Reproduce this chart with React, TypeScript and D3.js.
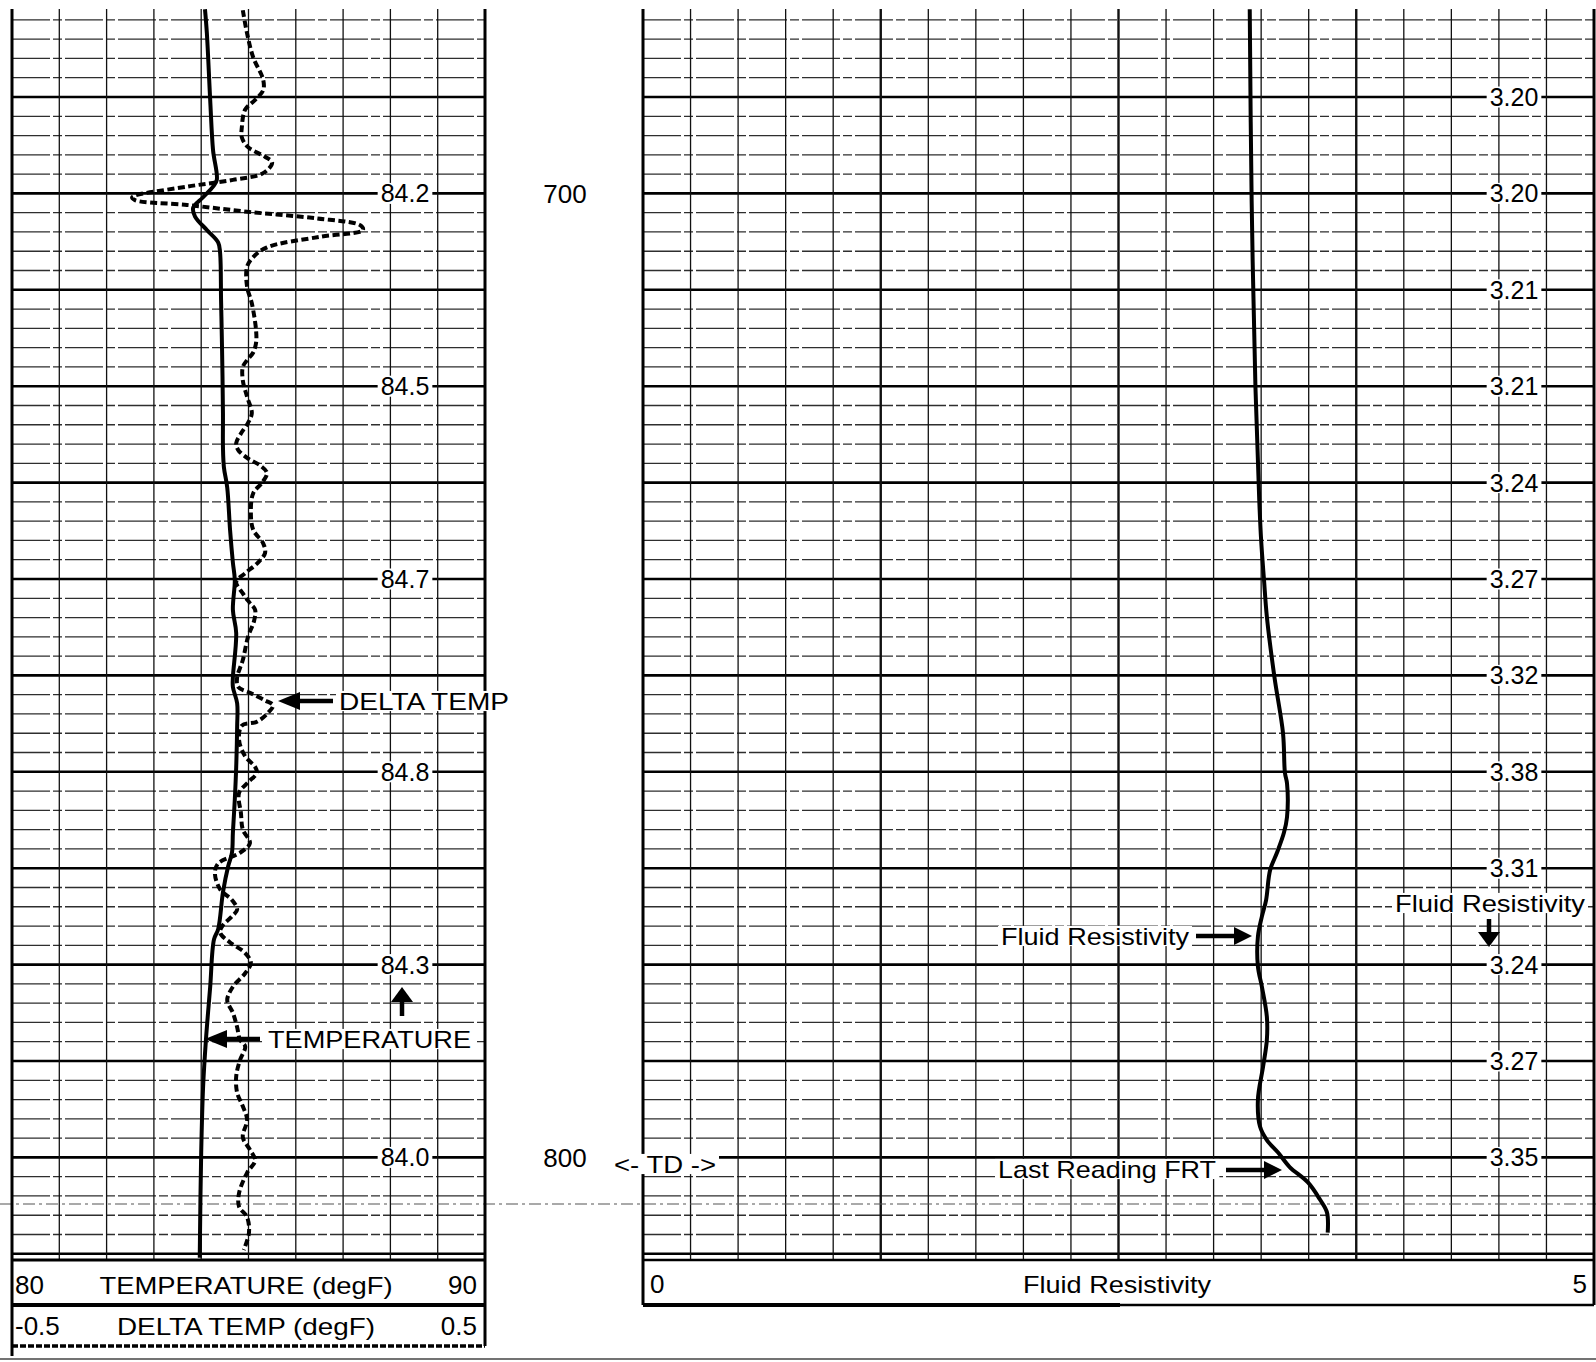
import { useEffect, useRef } from "react";
import * as d3 from "d3";

const tempDepth = [680.9, 683.4, 690.3, 695.5, 698.6, 699.3, 700.4, 701.5, 702.4, 703.8, 705.1, 706.2, 711.1, 715.9, 722.8, 726.3, 728.4, 730.5, 734.9, 738.3, 740.1, 743.2, 745.6, 750.2, 751.2, 752.9, 755.3, 759.5, 762.9, 766.3, 768.4, 769.8, 772.5, 776.3, 777.4, 782.3, 787.8, 792.7, 799.5, 809.9, 810.4];
const tempValue = [84.08, 84.12, 84.19, 84.25, 84.33, 84.25, 84.04, 83.83, 83.87, 84.12, 84.36, 84.4, 84.42, 84.44, 84.46, 84.46, 84.48, 84.55, 84.61, 84.67, 84.71, 84.67, 84.74, 84.67, 84.67, 84.76, 84.76, 84.74, 84.71, 84.67, 84.65, 84.57, 84.46, 84.36, 84.27, 84.19, 84.1, 84.04, 84.0, 83.97, 83.97];

const deltaDepth = [681.0, 683.4, 685.9, 688.2, 689.3, 690.3, 691.3, 693.1, 694.2, 695.2, 696.2, 696.8, 697.9, 698.6, 699.3, 700.4, 700.7, 701.2, 701.9, 702.6, 703.3, 703.8, 704.5, 705.6, 706.6, 707.6, 709.7, 711.4, 714.2, 715.5, 716.5, 717.3, 718.0, 719.4, 721.1, 722.8, 723.8, 724.9, 725.9, 726.6, 727.5, 728.2, 729.0, 730.0, 731.1, 733.1, 734.9, 736.3, 737.3, 738.3, 739.4, 740.3, 741.5, 742.5, 743.2, 744.3, 746.0, 748.4, 750.2, 751.2, 751.8, 752.6, 753.1, 753.9, 754.8, 755.2, 756.7, 758.4, 759.5, 760.1, 761.1, 762.2, 764.3, 766.0, 767.4, 768.4, 769.5, 770.5, 772.2, 773.3, 774.3, 775.0, 775.9, 776.7, 777.7, 778.8, 779.8, 780.9, 782.3, 783.7, 785.0, 786.5, 787.8, 788.5, 789.9, 791.6, 793.3, 794.7, 796.1, 797.9, 799.2, 800.3, 801.6, 803.7, 805.1, 806.2, 807.8, 809.6];
const deltaValue = [-0.012, -0.003, 0.01, 0.031, 0.031, 0.014, -0.007, -0.014, -0.014, -0.001, 0.035, 0.05, 0.031, -0.033, -0.13, -0.246, -0.24, -0.13, -0.003, 0.145, 0.236, 0.242, 0.151, 0.039, 0.01, -0.003, -0.003, 0.007, 0.016, 0.016, 0.01, -0.003, -0.012, -0.012, -0.003, 0.007, -0.001, -0.016, -0.026, -0.022, -0.001, 0.024, 0.039, 0.029, 0.01, 0.005, 0.01, 0.031, 0.035, 0.02, -0.007, -0.026, -0.012, 0.003, 0.014, 0.012, -0.001, -0.012, -0.024, -0.022, 0.003, 0.035, 0.052, 0.041, 0.018, -0.014, -0.02, -0.007, 0.014, 0.018, -0.001, -0.02, -0.016, -0.012, 0.003, -0.018, -0.064, -0.071, -0.06, -0.035, -0.024, -0.035, -0.054, -0.06, -0.039, -0.007, 0.005, -0.007, -0.033, -0.045, -0.033, -0.024, -0.018, -0.007, -0.018, -0.026, -0.024, -0.012, -0.003, -0.012, 0.003, 0.014, -0.003, -0.02, -0.02, -0.003, 0.001, -0.01];

const frtDepth = [680.9, 700.7, 720.1, 731.8, 736.0, 740.1, 743.9, 750.2, 756.0, 760.1, 761.2, 764.7, 766.3, 768.4, 770.2, 773.3, 775.0, 777.1, 780.2, 782.3, 785.4, 787.8, 790.6, 794.0, 796.8, 798.2, 799.5, 801.0, 802.6, 804.4, 805.7, 807.8];
const frtValue = [3.19, 3.2, 3.22, 3.24, 3.25, 3.265, 3.28, 3.32, 3.365, 3.375, 3.386, 3.386, 3.37, 3.333, 3.297, 3.276, 3.254, 3.233, 3.233, 3.254, 3.28, 3.28, 3.26, 3.233, 3.244, 3.28, 3.339, 3.4, 3.496, 3.56, 3.596, 3.6];

const tempLabelDepths = [700, 720, 740, 760, 780, 800];
const tempLabels = ["84.2", "84.5", "84.7", "84.8", "84.3", "84.0"];
const frtLabelDepths = [690, 700, 710, 720, 730, 740, 750, 760, 770, 780, 790, 800];
const frtLabels = ["3.20", "3.20", "3.21", "3.21", "3.24", "3.27", "3.32", "3.38", "3.31", "3.24", "3.27", "3.35"];
const depthLabels = [700, 800];

const FONT = "'Liberation Sans', Arial, Helvetica, sans-serif";

function App() {
  const svgRef = useRef<SVGSVGElement | null>(null);

  useEffect(() => {
    const svg: any = d3.select(svgRef.current);
    svg.selectAll("*").remove();

    const top = 9;
    const bottom = 1260;
    const y = d3.scaleLinear().domain([700, 800]).range([193.4, 1157.4]);
    const xTemp = d3.scaleLinear().domain([80, 90]).range([12, 485]);
    const xDelta = d3.scaleLinear().domain([-0.5, 0.5]).range([12, 485]);
    const xFrt = d3.scaleLinear().domain([0, 5]).range([643, 1594]);

    svg.append("rect").attr("width", 1596).attr("height", 1362).attr("fill", "#fff");

    const grid = svg.append("g");
    const depthLines = d3.range(682, 811, 2);

    const drawTrack = (x: any, ticks: number[], thick: (v: number) => boolean) => {
      const [x0, x1] = x.range();
      depthLines.forEach((d: number) => {
        const major = d % 10 === 0;
        grid
          .append("line")
          .attr("x1", x0)
          .attr("x2", x1)
          .attr("y1", y(d))
          .attr("y2", y(d))
          .attr("stroke", major ? "#000" : "#2e2e2e")
          .attr("stroke-width", major ? 2.6 : 1.3)
          .attr("stroke-dasharray", major ? null : "38,3,9,3");
      });
      ticks.forEach((v) => {
        grid
          .append("line")
          .attr("x1", x(v))
          .attr("x2", x(v))
          .attr("y1", top)
          .attr("y2", bottom)
          .attr("stroke", "#111")
          .attr("stroke-width", thick(v) ? 2.4 : 1.3);
      });
    };
    drawTrack(xTemp, d3.range(81, 90, 1), () => false);
    drawTrack(xFrt, d3.range(0.25, 5, 0.25), (v) => Math.abs(v / 1.25 - Math.round(v / 1.25)) < 1e-6);

    // TD marker line across the page
    svg
      .append("line")
      .attr("x1", 0)
      .attr("x2", 1596)
      .attr("y1", 1204)
      .attr("y2", 1204)
      .attr("stroke", "#555")
      .attr("stroke-width", 1.2)
      .attr("stroke-dasharray", "12,4,3,4");

    // frames
    const frame = svg.append("g").attr("stroke", "#000").attr("fill", "none");
    const seg = (x1: number, y1: number, x2: number, y2: number, w: number, dash?: string, col = "#000") =>
      frame
        .append("line")
        .attr("x1", x1)
        .attr("y1", y1)
        .attr("x2", x2)
        .attr("y2", y2)
        .attr("stroke", col)
        .attr("stroke-width", w)
        .attr("stroke-dasharray", dash || null);
    seg(12, top, 12, 1356, 3);
    seg(485, top, 485, 1346, 3);
    seg(12, bottom, 485, bottom, 3);
    seg(12, 1305, 485, 1305, 4);
    seg(12, 1346, 485, 1346, 3.5, "6,2");
    seg(643, top, 643, 1305, 3);
    seg(1594, top, 1594, 1305, 3);
    seg(643, bottom, 1594, bottom, 2.6);
    seg(643, 1305, 1120, 1305, 4);
    seg(1120, 1305, 1594, 1305, 2.5);
    seg(0, 1359, 1596, 1359, 1.5, undefined, "#444");

    // curves
    const curves = svg.append("g").attr("fill", "none").attr("stroke", "#000");
    const mk = (xs: any, depths: number[], vals: number[]) =>
      d3
        .line<number>()
        .x((_, i) => xs(vals[i]))
        .y((d) => y(d))
        .curve(d3.curveCatmullRom.alpha(0.5))(depths);
    curves.append("path").attr("d", mk(xTemp, tempDepth, tempValue)).attr("stroke-width", 4);
    curves
      .append("path")
      .attr("d", mk(xDelta, deltaDepth, deltaValue))
      .attr("stroke-width", 4)
      .attr("stroke-dasharray", "7,3.5");
    curves.append("path").attr("d", mk(xFrt, frtDepth, frtValue)).attr("stroke-width", 4);

    // labels
    const lab = svg.append("g").attr("font-family", FONT).attr("fill", "#000");
    const label = (
      text: string,
      x: number,
      cy: number,
      size: number,
      anchor = "middle",
      width?: number,
      bg = true
    ) => {
      const t = lab
        .append("text")
        .attr("x", x)
        .attr("y", cy)
        .attr("dy", "0.36em")
        .attr("font-size", size)
        .attr("text-anchor", anchor)
        .text(text);
      if (width) t.attr("textLength", width).attr("lengthAdjust", "spacingAndGlyphs");
      if (bg) {
        const b = t.node().getBBox();
        lab
          .insert("rect", () => t.node())
          .attr("x", b.x - 3)
          .attr("y", cy - size * 0.42)
          .attr("width", b.width + 6)
          .attr("height", size * 0.84)
          .attr("fill", "#fff");
      }
      return t;
    };

    tempLabelDepths.forEach((d, i) => label(tempLabels[i], 405, y(d), 25));
    frtLabelDepths.forEach((d, i) => label(frtLabels[i], 1514, y(d), 25));
    depthLabels.forEach((d) => label(String(d), 565, y(d), 26, "middle", undefined, false));

    const arrow = (x1: number, y1: number, x2: number, y2: number, hl: number, hw: number) => {
      const a = Math.atan2(y2 - y1, x2 - x1);
      const bx = x2 - hl * Math.cos(a);
      const by = y2 - hl * Math.sin(a);
      lab
        .append("line")
        .attr("x1", x1)
        .attr("y1", y1)
        .attr("x2", bx)
        .attr("y2", by)
        .attr("stroke", "#000")
        .attr("stroke-width", 4.5);
      const px = -Math.sin(a) * hw;
      const py = Math.cos(a) * hw;
      lab
        .append("path")
        .attr("d", `M${x2},${y2}L${bx + px},${by + py}L${bx - px},${by - py}Z`)
        .attr("fill", "#000");
    };

    label("DELTA TEMP", 339, 701, 24, "start", 170);
    arrow(333, 701, 278, 701, 22, 9);
    label("TEMPERATURE", 268, 1039, 24, "start", 203);
    arrow(260, 1039, 205, 1039, 22, 9);
    arrow(402, 1016, 402, 987, 15, 11);

    label("Fluid Resistivity", 1001, 936, 24, "start", 188);
    arrow(1196, 936, 1252, 936, 18, 9);
    label("Fluid Resistivity", 1395, 903, 24, "start", 190);
    arrow(1489, 919, 1489, 947, 15, 11);
    label("Last Reading FRT", 998, 1169, 24, "start", 218);
    arrow(1226, 1170, 1282, 1170, 18, 9);
    label("<- TD ->", 614, 1164, 24, "start", 102);

    // headers
    label("80", 15, 1285, 26, "start", undefined, false);
    label("TEMPERATURE (degF)", 246, 1285, 24, "middle", 293, false);
    label("90", 477, 1285, 26, "end", undefined, false);
    label("-0.5", 15, 1326, 26, "start", undefined, false);
    label("DELTA TEMP (degF)", 246, 1326, 24, "middle", 258, false);
    label("0.5", 477, 1326, 26, "end", undefined, false);
    label("0", 650, 1284, 26, "start", undefined, false);
    label("Fluid Resistivity", 1117, 1284, 24, "middle", 188, false);
    label("5", 1587, 1284, 26, "end", undefined, false);
  }, []);

  return (
    <div style={{ position: "absolute", left: 0, top: 0 }}>
      <svg ref={svgRef} width={1596} height={1362} style={{ display: "block" }}></svg>
    </div>
  );
}

export default App;
